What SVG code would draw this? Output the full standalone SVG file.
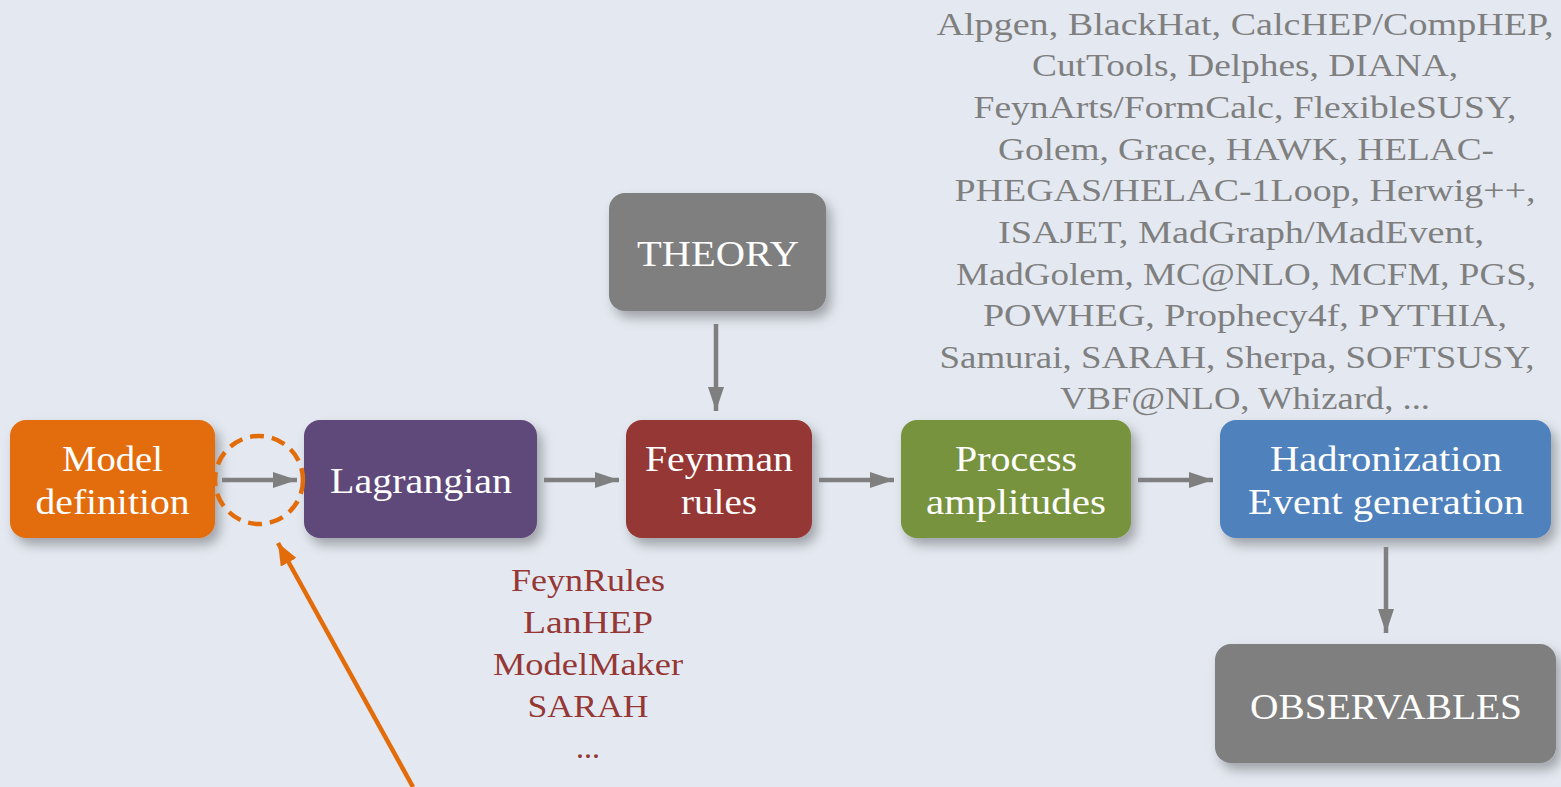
<svg xmlns="http://www.w3.org/2000/svg" width="1561" height="787" viewBox="0 0 1561 787">
<defs>
<style>
.box{filter:url(#sh)}
.t{font-family:"Liberation Serif","DejaVu Serif",serif;fill:#ffffff;font-size:36px;text-anchor:middle}
.gl{font-family:"Liberation Serif","DejaVu Serif",serif;fill:#7f7f7f;font-size:32px;text-anchor:middle}
.rl{font-family:"Liberation Serif","DejaVu Serif",serif;fill:#953735;font-size:32px;text-anchor:middle}
.ga{stroke:#7f7f7f;stroke-width:4.5;fill:none;marker-end:url(#ah)}
</style>
<filter id="sh" x="-10%" y="-10%" width="130%" height="140%">
<feDropShadow dx="5" dy="7" stdDeviation="6" flood-color="#000" flood-opacity="0.3"/>
</filter>
<marker id="ah" markerUnits="userSpaceOnUse" markerWidth="26" markerHeight="18" refX="24" refY="8" orient="auto">
<path d="M0,0 L24,8 L0,16 Z" fill="#7f7f7f"/>
</marker>
<marker id="ao" markerUnits="userSpaceOnUse" markerWidth="26" markerHeight="20" refX="22" refY="9" orient="auto">
<path d="M0,0 L22,9 L0,18 Z" fill="#e36c0a"/>
</marker>
</defs>
<rect width="1561" height="787" fill="#e4e9f1"/>

<g id="model">
<rect class="box" x="10" y="420" width="205" height="118" rx="16" fill="#e36c0a"/>
<text class="t" x="112.5" y="471" textLength="101" lengthAdjust="spacingAndGlyphs">Model</text>
<text class="t" x="112.5" y="514" textLength="154" lengthAdjust="spacingAndGlyphs">definition</text>
</g>
<g id="lagrangian">
<rect class="box" x="304" y="420" width="233" height="118" rx="16" fill="#5f497a"/>
<text class="t" x="421" y="493" textLength="182" lengthAdjust="spacingAndGlyphs">Lagrangian</text>
</g>
<g id="feynman">
<rect class="box" x="626" y="420" width="186" height="118" rx="16" fill="#953735"/>
<text class="t" x="719" y="471" textLength="148" lengthAdjust="spacingAndGlyphs">Feynman</text>
<text class="t" x="719" y="514" textLength="76" lengthAdjust="spacingAndGlyphs">rules</text>
</g>
<g id="process">
<rect class="box" x="901" y="420" width="230" height="118" rx="16" fill="#77933c"/>
<text class="t" x="1016" y="471" textLength="122" lengthAdjust="spacingAndGlyphs">Process</text>
<text class="t" x="1016" y="514" textLength="180" lengthAdjust="spacingAndGlyphs">amplitudes</text>
</g>
<g id="hadronization">
<rect class="box" x="1220" y="420" width="331" height="118" rx="16" fill="#4f81bd"/>
<text class="t" x="1386" y="471" textLength="232" lengthAdjust="spacingAndGlyphs">Hadronization</text>
<text class="t" x="1386" y="514" textLength="276" lengthAdjust="spacingAndGlyphs">Event generation</text>
</g>
<g id="theory">
<rect class="box" x="609" y="193" width="217" height="118" rx="16" fill="#7f7f7f"/>
<text class="t" x="718" y="266" textLength="162" lengthAdjust="spacingAndGlyphs">THEORY</text>
</g>
<g id="observables">
<rect class="box" x="1215" y="644" width="341" height="119" rx="16" fill="#7f7f7f"/>
<text class="t" x="1386" y="719" textLength="272" lengthAdjust="spacingAndGlyphs">OBSERVABLES</text>
</g>

<g id="tools-lagrangian">
<text class="rl" x="588" y="591" textLength="154" lengthAdjust="spacingAndGlyphs">FeynRules</text>
<text class="rl" x="588" y="633" textLength="130" lengthAdjust="spacingAndGlyphs">LanHEP</text>
<text class="rl" x="588" y="675" textLength="190" lengthAdjust="spacingAndGlyphs">ModelMaker</text>
<text class="rl" x="588" y="717" textLength="121" lengthAdjust="spacingAndGlyphs">SARAH</text>
<text class="rl" x="588" y="758">...</text>
</g>

<g id="tools-amplitudes">
<text class="gl" x="1245" y="35" textLength="617" lengthAdjust="spacingAndGlyphs">Alpgen, BlackHat, CalcHEP/CompHEP,</text>
<text class="gl" x="1245" y="76" textLength="426" lengthAdjust="spacingAndGlyphs">CutTools, Delphes, DIANA,</text>
<text class="gl" x="1245" y="118" textLength="543" lengthAdjust="spacingAndGlyphs">FeynArts/FormCalc, FlexibleSUSY,</text>
<text class="gl" x="1246" y="160" textLength="496" lengthAdjust="spacingAndGlyphs">Golem, Grace, HAWK, HELAC-</text>
<text class="gl" x="1245" y="201" textLength="581" lengthAdjust="spacingAndGlyphs">PHEGAS/HELAC-1Loop, Herwig++,</text>
<text class="gl" x="1241" y="243" textLength="486" lengthAdjust="spacingAndGlyphs">ISAJET, MadGraph/MadEvent,</text>
<text class="gl" x="1246" y="285" textLength="580" lengthAdjust="spacingAndGlyphs">MadGolem, MC@NLO, MCFM, PGS,</text>
<text class="gl" x="1245" y="326" textLength="524" lengthAdjust="spacingAndGlyphs">POWHEG, Prophecy4f, PYTHIA,</text>
<text class="gl" x="1237" y="368" textLength="595" lengthAdjust="spacingAndGlyphs">Samurai, SARAH, Sherpa, SOFTSUSY,</text>
<text class="gl" x="1245" y="409" textLength="370" lengthAdjust="spacingAndGlyphs">VBF@NLO, Whizard, ...</text>
</g>

<g id="highlight">
<circle cx="259" cy="480" r="44" fill="none" stroke="#e36c0a" stroke-width="4.5" stroke-dasharray="14 8"/>
</g>

<g id="connectors">
<line class="ga" x1="222" y1="480" x2="297" y2="480"/>
<line class="ga" x1="544" y1="480" x2="619" y2="480"/>
<line class="ga" x1="819" y1="480" x2="894" y2="480"/>
<line class="ga" x1="1138" y1="480" x2="1213" y2="480"/>
<line class="ga" x1="716" y1="324" x2="716" y2="411"/>
<line class="ga" x1="1386" y1="547" x2="1386" y2="633"/>
<line x1="413" y1="787" x2="278" y2="543" stroke="#e36c0a" stroke-width="4.5" marker-end="url(#ao)"/>
</g>
</svg>
